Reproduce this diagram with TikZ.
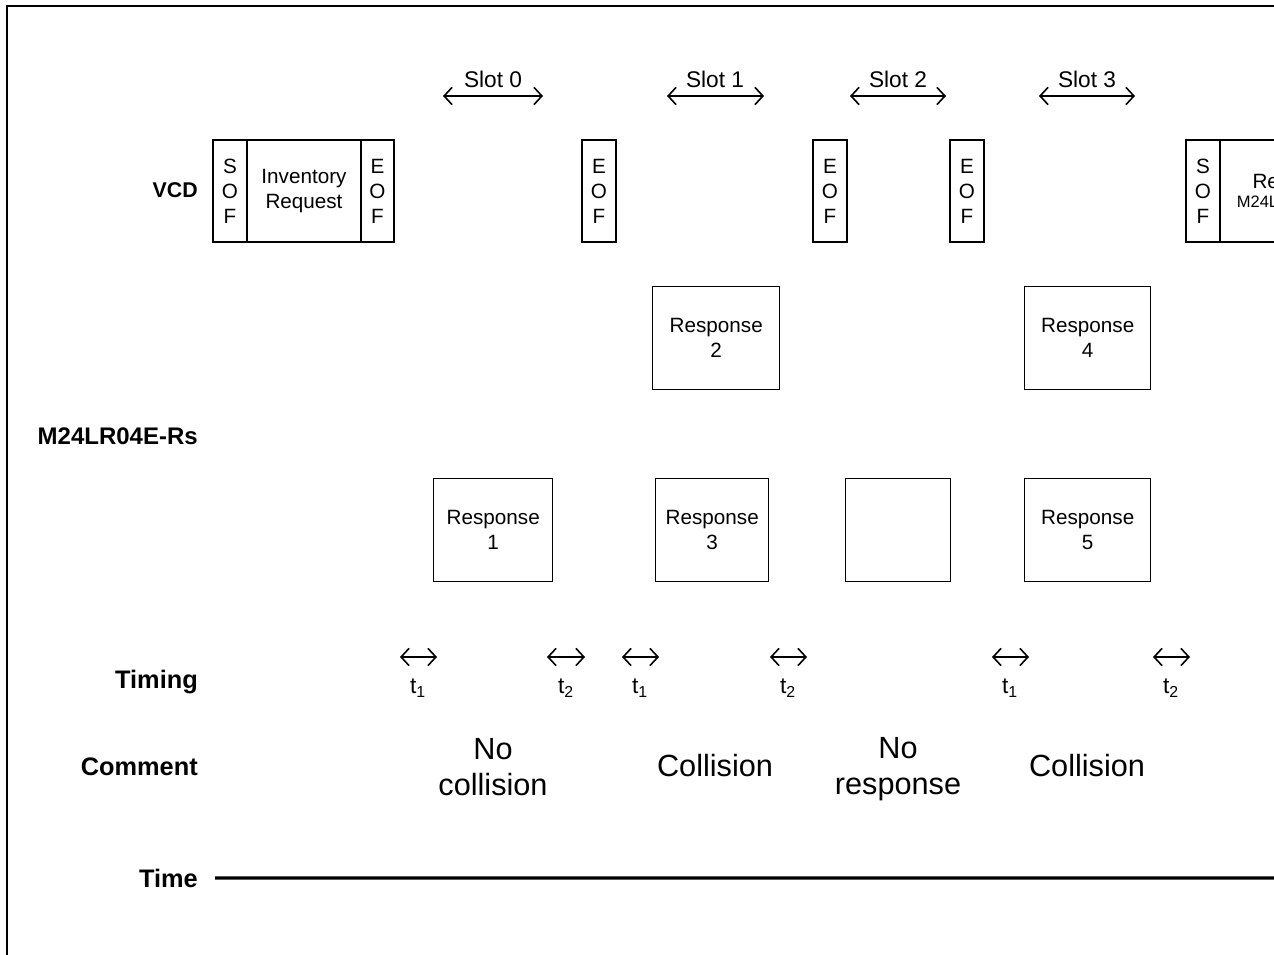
\documentclass[tikz,border=0pt]{standalone}
\usepackage{fontspec}
\setmainfont{Liberation Sans}
\usetikzlibrary{arrows.meta, positioning}

\tikzset{
  framebox/.style={draw, line width=1.1pt, inner sep=0pt, outer sep=0pt, minimum width=25.5pt, minimum height=76.5pt, align=center, font=\fontsize{15.5}{18.75}\selectfont},
  respbox/.style={draw, line width=1.1pt, inner sep=0pt, minimum height=77.25pt, anchor=north west, align=center, font=\fontsize{15.5}{18.75}\selectfont},
  rowlabel/.style={anchor=base east, inner sep=0pt, font=\bfseries\fontsize{19}{22}\selectfont},
  slotlabel/.style={inner sep=0pt, font=\fontsize{17}{20}\selectfont},
  tlabel/.style={inner sep=0pt, font=\fontsize{17}{20}\selectfont},
  commenttext/.style={align=center, inner sep=0pt, font=\fontsize{23}{27}\selectfont},
  slotarrow/.style={{Straight Barb[length=6pt,width=13pt]}-{Straight Barb[length=6pt,width=13pt]}, line width=1.2pt},
  timearrow/.style={{Straight Barb[length=6pt,width=13pt]}-{Straight Barb[length=6pt,width=13pt]}, line width=1.2pt},
}

\begin{document}
\begin{tikzpicture}[x=0.75pt, y=-0.75pt]
        \useasboundingbox (0,0) rectangle (1274,955);
        \clip (0,0) rectangle (1274,955);
        \draw[line width=2pt, line join=miter] (7,970) -- (7,6) -- (1290,6);

        % row labels
        \node[rowlabel, font=\bfseries\fontsize{16}{19}\selectfont] (vcd) at (198,198) {VCD};
        \node[rowlabel, font=\bfseries\fontsize{18}{21}\selectfont] (tags) at (198,445) {M24LR04E-Rs};
        \node[rowlabel] (timing) at (198,688) {Timing};
        \node[rowlabel] (comment) at (198,775) {Comment};
        \node[rowlabel] (time) at (198,887) {Time};

        % VCD frames
        \node[framebox, anchor=north west] (sof1) at (213,140) {S\\O\\F};
        \node[framebox, minimum width=85.5pt, right=0pt of sof1] (invreq) {Inventory\\Request};
        \node[framebox, minimum width=24.75pt, right=0pt of invreq] (eof1) {E\\O\\F};
        \node[framebox, anchor=north west] (eof2) at (582,140) {E\\O\\F};
        \node[framebox, anchor=north west] (eof3) at (813,140) {E\\O\\F};
        \node[framebox, anchor=north west] (eof4) at (950,140) {E\\O\\F};
        \node[framebox, anchor=north west] (sof2) at (1186,140) {S\\O\\F};
        \node[framebox, minimum width=106.5pt, right=0pt of sof2] (nextreq) {Request\\[-4pt]{\fontsize{12.4}{15}\selectfont M24LR04E-Rs}};

        % slots
        \coordinate (s0a) at (443,96); \coordinate (s0b) at (543,96);
        \coordinate (s1a) at (667,96); \coordinate (s1b) at (764,96);
        \coordinate (s2a) at (850,96); \coordinate (s2b) at (946,96);
        \coordinate (s3a) at (1039,96); \coordinate (s3b) at (1135,96);
        \draw[slotarrow] (s0a) -- (s0b);
        \draw[slotarrow] (s1a) -- (s1b);
        \draw[slotarrow] (s2a) -- (s2b);
        \draw[slotarrow] (s3a) -- (s3b);
        \node[slotlabel] (slot0) at (493,79) {Slot 0};
        \node[slotlabel] (slot1) at (715,79) {Slot 1};
        \node[slotlabel] (slot2) at (898,79) {Slot 2};
        \node[slotlabel] (slot3) at (1087,79) {Slot 3};

        % responses
        \node[respbox, minimum width=95.25pt] (resp2) at (652,286) {Response\\2};
        \node[respbox, minimum width=94.5pt] (resp4) at (1024,286) {Response\\4};
        \node[respbox, minimum width=89.25pt] (resp1) at (433,478) {Response\\1};
        \node[respbox, minimum width=84.75pt] (resp3) at (655,478) {Response\\3};
        \node[respbox, minimum width=78.75pt] (resp0) at (845,478) {};
        \node[respbox, minimum width=94.5pt] (resp5) at (1024,478) {Response\\5};

        % timing
        \coordinate (ta1) at (400,657); \coordinate (tb1) at (437,657);
        \coordinate (ta2) at (547,657); \coordinate (tb2) at (585,657);
        \coordinate (ta3) at (622,657); \coordinate (tb3) at (659,657);
        \coordinate (ta4) at (770,657); \coordinate (tb4) at (807,657);
        \coordinate (ta5) at (992,657); \coordinate (tb5) at (1029,657);
        \coordinate (ta6) at (1153,657); \coordinate (tb6) at (1190,657);
        \draw[timearrow] (ta1) -- (tb1);
        \draw[timearrow] (ta2) -- (tb2);
        \draw[timearrow] (ta3) -- (tb3);
        \draw[timearrow] (ta4) -- (tb4);
        \draw[timearrow] (ta5) -- (tb5);
        \draw[timearrow] (ta6) -- (tb6);
        \node[tlabel] (tl1) at (418,688) {t\textsubscript{1}};
        \node[tlabel] (tl2) at (566,688) {t\textsubscript{2}};
        \node[tlabel] (tl3) at (640,688) {t\textsubscript{1}};
        \node[tlabel] (tl4) at (788,688) {t\textsubscript{2}};
        \node[tlabel] (tl5) at (1010,688) {t\textsubscript{1}};
        \node[tlabel] (tl6) at (1171,688) {t\textsubscript{2}};

        % comments
        \node[commenttext] (c0) at (493,767) {No\\collision};
        \node[commenttext] (c1) at (715,766) {Collision};
        \node[commenttext] (c2) at (898,769) {No\\response};
        \node[commenttext] (c3) at (1087,766) {Collision};

        % time axis
        \coordinate (tend) at (1290,878);
        \draw[line width=2.4pt] (time.east) ++(17,0) -- (tend);
\end{tikzpicture}
\end{document}
